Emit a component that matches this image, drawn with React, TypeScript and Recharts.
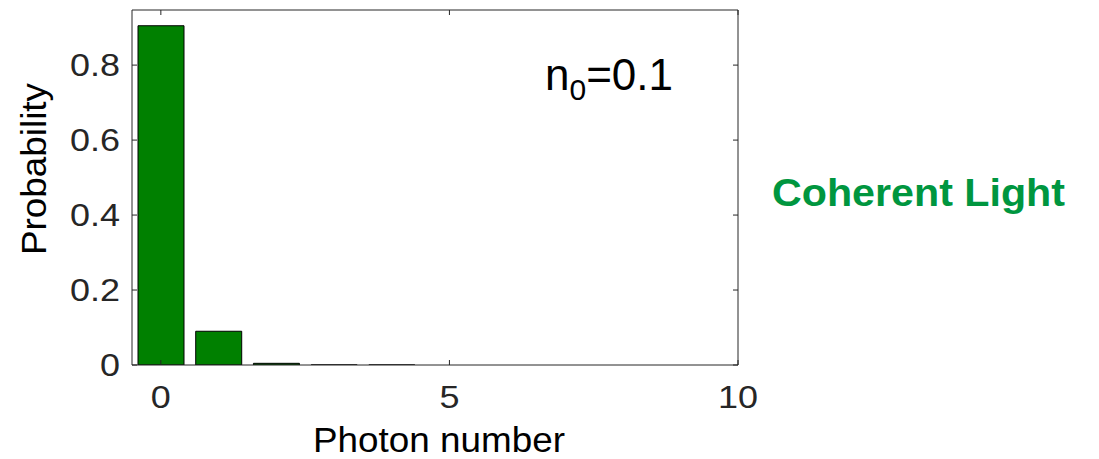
import React from "react";
import { BarChart, Bar, XAxis, YAxis, Label } from "recharts";

const photonNumbers = [0, 1, 2, 3, 4, 5, 6, 7, 8, 9, 10];
const probabilities = [0.905, 0.09, 0.0045, 0.00015, 0.000004, 0, 0, 0, 0, 0, 0];
const xTicks = [0, 5, 10];
const yTicks = [0, 0.2, 0.4, 0.6, 0.8];
const xDomain: [number, number] = [-0.5, 10];
const yDomain: [number, number] = [0, 0.947];

const data = photonNumbers.map((n, i) => ({ n, p: probabilities[i] }));

const FONT = "'Liberation Sans', Arial, Helvetica, sans-serif";
const AX = "#262626";
const TICK_LEN = 5;
const TICK_FONT = 30.5;
const TICK_STRETCH = 1.18;

const fmtY = (v: number) => (v === 0 ? "0" : String(v));

const BottomTick = (props: any) => {
  const { x, y, payload } = props;
  return (
    <g>
      <line x1={x} x2={x} y1={y} y2={y - TICK_LEN} stroke={AX} strokeWidth={1} />
      <text transform={`translate(${x}, ${y + 43}) scale(${TICK_STRETCH}, 1)`} x={0} y={0}
        textAnchor="middle" fontSize={TICK_FONT} fontFamily={FONT} fill={AX}>
        {payload.value}
      </text>
    </g>
  );
};

const TopTick = (props: any) => {
  const { x, y } = props;
  return <line x1={x} x2={x} y1={y} y2={y + TICK_LEN} stroke={AX} strokeWidth={1} />;
};

const LeftTick = (props: any) => {
  const { x, y, payload } = props;
  return (
    <g>
      <line x1={x} x2={x + TICK_LEN} y1={y} y2={y} stroke={AX} strokeWidth={1} />
      <text transform={`translate(${x - 12}, ${y + 11}) scale(${TICK_STRETCH}, 1)`} x={0} y={0}
        textAnchor="end" fontSize={TICK_FONT} fontFamily={FONT} fill={AX}>
        {fmtY(payload.value)}
      </text>
    </g>
  );
};

const RightTick = (props: any) => {
  const { x, y } = props;
  return <line x1={x} x2={x - TICK_LEN} y1={y} y2={y} stroke={AX} strokeWidth={1} />;
};

const XLabel = (props: any) => {
  const vb = props.viewBox || {};
  const cx = vb.x + vb.width / 2 + 4;
  return (
    <text x={cx} y={vb.y + 87} textAnchor="middle" fontSize={35} fontFamily={FONT} fill="#000"
      textLength={252} lengthAdjust="spacingAndGlyphs">
      Photon number
    </text>
  );
};

const YLabel = () => {
  const cx = 46;
  const cy = 169;
  return (
    <text x={cx} y={cy} textAnchor="middle" fontSize={35} fontFamily={FONT} fill="#000"
      transform={`rotate(-90, ${cx}, ${cy})`} textLength={172} lengthAdjust="spacingAndGlyphs">
      Probability
    </text>
  );
};

export default function App() {
  return (
    <div style={{ position: "absolute", left: 0, top: 0, width: 1099, height: 459, background: "#fff" }}>
      <BarChart
        width={1099}
        height={459}
        data={data}
        margin={{ top: 9, right: 360, bottom: 93, left: 131 }}
      >
        <XAxis
          dataKey="n"
          type="number"
          domain={xDomain}
          ticks={xTicks}
          height={1}
          tickSize={0}
          tickMargin={0}
          tickLine={false}
          axisLine={{ stroke: AX, strokeWidth: 1 }}
          tick={<BottomTick />}
          allowDataOverflow
          interval={0}
        >
          <Label content={<XLabel />} />
        </XAxis>
        <XAxis
          xAxisId="top"
          orientation="top"
          dataKey="n"
          type="number"
          domain={xDomain}
          ticks={xTicks}
          height={1}
          tickSize={0}
          tickMargin={0}
          tickLine={false}
          axisLine={{ stroke: AX, strokeWidth: 1 }}
          tick={<TopTick />}
          allowDataOverflow
          interval={0}
        />
        <YAxis
          type="number"
          domain={yDomain}
          ticks={yTicks}
          width={1}
          tickSize={0}
          tickMargin={0}
          tickLine={false}
          axisLine={{ stroke: AX, strokeWidth: 1 }}
          tick={<LeftTick />}
          allowDataOverflow
          interval={0}
        >
          <Label content={<YLabel />} />
        </YAxis>
        <YAxis
          yAxisId="right"
          orientation="right"
          type="number"
          domain={yDomain}
          ticks={yTicks}
          width={1}
          tickSize={0}
          tickMargin={0}
          tickLine={false}
          axisLine={{ stroke: AX, strokeWidth: 1 }}
          tick={<RightTick />}
          allowDataOverflow
          interval={0}
        />
        <Bar dataKey="p" fill="#008000" stroke="#000" strokeWidth={1} barSize={46} isAnimationActive={false} />
      </BarChart>
      <svg width={1099} height={459} style={{ position: "absolute", left: 0, top: 0, pointerEvents: "none" }}>
        <text x={545} y={90} fontSize={44} fontFamily={FONT} fill="#000">
          n
          <tspan dy={10} fontSize={30}>0</tspan>
          <tspan dy={-10} fontSize={44}>=0.1</tspan>
        </text>
        <text x={772} y={206} fontSize={39} fontWeight="bold" fontFamily={FONT} fill="#00963F"
          textLength={293} lengthAdjust="spacingAndGlyphs">
          Coherent Light
        </text>
      </svg>
    </div>
  );
}
